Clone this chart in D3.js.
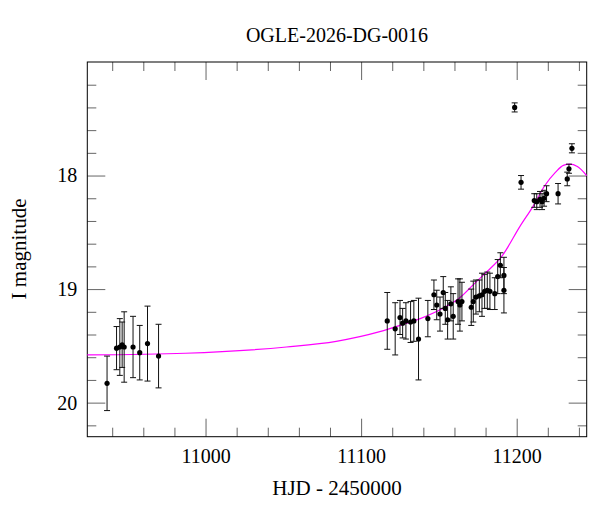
<!DOCTYPE html>
<html>
<head>
<meta charset="utf-8">
<script src="https://cdn.jsdelivr.net/npm/d3@7"></script>
<style>
  body { margin: 0; background: #fff; }
  svg text { font-family: "Liberation Serif", "DejaVu Serif", serif; fill: #000; }
</style>
</head>
<body>
<svg></svg>
<script>
let width = 600;
let height = 512;

// observed points: HJD - 2450000, I mag, error
let obsDays = [
    10936.7, 10942.8, 10944.9, 10946.4, 10947.7, 10953.4, 10957.7, 10962.7, 10969.8,
    11116.8, 11121.9, 11125.0, 11126.7, 11128.8, 11131.8, 11133.9, 11136.9, 11142.9,
    11146.8, 11148.6, 11150.7, 11152.8, 11154.1, 11155.6, 11157.7, 11159.2, 11162.3,
    11163.5, 11164.8, 11170.8, 11172.1, 11173.8, 11176.0, 11177.7, 11179.4, 11181.1,
    11182.8, 11185.9, 11187.8, 11189.5, 11191.8, 11191.8,
    11198.7, 11202.8, 11211.3, 11212.9, 11215.0, 11216.3, 11217.6, 11219.2,
    11226.6, 11232.5, 11233.6, 11235.5
];
let obsMags = [
    19.83, 19.52, 19.51, 19.49, 19.51, 19.51, 19.56, 19.48, 19.59,
    19.28, 19.35, 19.25, 19.30, 19.28, 19.29, 19.28, 19.44, 19.26,
    19.05, 19.14, 19.22, 19.03, 19.17, 19.27, 19.13, 19.24, 19.11,
    19.14, 19.11, 19.16, 19.11, 19.07, 19.06, 19.05, 19.02, 19.01,
    19.02, 19.04, 18.89, 18.79, 18.88, 19.01,
    17.40, 18.06, 18.22, 18.23, 18.21, 18.23, 18.20, 18.16,
    18.16, 18.03, 17.94, 17.76
];
let obsErrs = [
    0.24, 0.19, 0.25, 0.20, 0.31, 0.27, 0.24, 0.33, 0.28,
    0.25, 0.23, 0.15, 0.13, 0.16, 0.18, 0.18, 0.36, 0.16,
    0.13, 0.13, 0.15, 0.14, 0.14, 0.17, 0.15, 0.20, 0.20,
    0.23, 0.17, 0.16, 0.18, 0.15, 0.14, 0.19, 0.15, 0.16,
    0.16, 0.14, 0.15, 0.11, 0.16, 0.20,
    0.04, 0.06, 0.06, 0.07, 0.07, 0.07, 0.07, 0.07,
    0.09, 0.06, 0.04, 0.04
];

// model curve
let modelDays = [10924, 10987, 11052, 11084, 11112, 11125, 11138, 11151, 11164, 11170,
    11176, 11181, 11191, 11202, 11211, 11218, 11225, 11230, 11234, 11239, 11245];
let modelMags = [19.58, 19.565, 19.51, 19.46, 19.375, 19.32, 19.26, 19.18, 19.07, 18.99,
    18.91, 18.845, 18.70, 18.45, 18.26, 18.09, 17.97, 17.91, 17.90, 17.92, 18.00];

let xMajor = [11000, 11100, 11200];
let yMajor = [18, 19, 20];

let margin = {top: 62, right: 13.3, bottom: 75.3, left: 87.3};
let innerW = width - margin.left - margin.right;
let innerH = height - margin.top - margin.bottom;

let svg = d3.select('svg')
    .attr('width', width)
    .attr('height', height);

let x = d3.scaleLinear().domain([10924, 11245]).range([0, innerW]);
let y = d3.scaleLinear().domain([17.0, 20.3]).range([0, innerH]);

let plot = svg.append('g')
    .attr('transform', `translate(${margin.left},${margin.top})`);

// minor ticks every 20 days and 0.2 mag
let xMinor = d3.range(10940, 11245, 20).filter(d => xMajor.indexOf(d) < 0);
let yMinor = d3.range(17.2, 20.3, 0.2).map(d => +d.toFixed(1)).filter(d => yMajor.indexOf(d) < 0);

function tickAxis(axisFn, scale, values, size, labels, pad) {
    return axisFn(scale)
        .tickValues(values)
        .tickSizeInner(-size)
        .tickSizeOuter(0)
        .tickPadding(pad || 0)
        .tickFormat(labels ? d3.format('d') : '');
}

let axes = [
    [d3.axisBottom, x, xMajor, 18, true, 12.4, `translate(0,${innerH})`],
    [d3.axisBottom, x, xMinor, 9, false, 0, `translate(0,${innerH})`],
    [d3.axisTop, x, xMajor, 18, false, 0, null],
    [d3.axisTop, x, xMinor, 9, false, 0, null],
    [d3.axisLeft, y, yMajor, 18, true, 10, null],
    [d3.axisLeft, y, yMinor, 9, false, 0, null],
    [d3.axisRight, y, yMajor, 18, false, 0, `translate(${innerW},0)`],
    [d3.axisRight, y, yMinor, 9, false, 0, `translate(${innerW},0)`]
];

axes.forEach(a => {
    let g = plot.append('g')
        .attr('transform', a[6])
        .call(tickAxis(a[0], a[1], a[2], a[3], a[4], a[5]));
    g.select('.domain').remove();
    g.selectAll('.tick line').attr('stroke', '#666');
    g.selectAll('.tick text')
        .style('font-size', '20px')
        .style('font-family', '"Liberation Serif", serif');
});

// frame
plot.append('rect')
    .attr('width', innerW)
    .attr('height', innerH)
    .attr('fill', 'none')
    .attr('stroke', '#000');

// model line
let line = d3.line()
    .x(d => x(d[0]))
    .y(d => y(d[1]))
    .curve(d3.curveMonotoneX);

plot.append('path')
    .datum(modelDays.map((d, i) => [d, modelMags[i]]))
    .attr('d', line)
    .attr('fill', 'none')
    .attr('stroke', '#ff00ff')
    .attr('stroke-width', 1.2);

// data points with error bars
let obs = obsDays.map((d, i) => ({day: d, mag: obsMags[i], err: obsErrs[i]}));

let pts = plot.selectAll('g.obs')
    .data(obs)
    .enter()
    .append('g')
    .classed('obs', true);

pts.append('line')
    .attr('x1', d => x(d.day))
    .attr('x2', d => x(d.day))
    .attr('y1', d => y(d.mag - d.err))
    .attr('y2', d => y(d.mag + d.err));

[-1, 1].forEach(s => {
    pts.append('line')
        .attr('x1', d => x(d.day) - 3)
        .attr('x2', d => x(d.day) + 3)
        .attr('y1', d => y(d.mag + s * d.err))
        .attr('y2', d => y(d.mag + s * d.err));
});

pts.selectAll('line')
    .attr('stroke', '#111')
    .attr('stroke-width', 1);

pts.append('circle')
    .attr('cx', d => x(d.day))
    .attr('cy', d => y(d.mag))
    .attr('r', 2.6)
    .attr('fill', '#000');

// labels
svg.append('text')
    .attr('x', margin.left + innerW / 2)
    .attr('y', 41.7)
    .attr('text-anchor', 'middle')
    .style('font-size', '20px')
    .text('OGLE-2026-DG-0016');

svg.append('text')
    .attr('x', margin.left + innerW / 2)
    .attr('y', 495)
    .attr('text-anchor', 'middle')
    .style('font-size', '21px')
    .text('HJD - 2450000');

svg.append('text')
    .attr('transform', 'translate(25.5,249) rotate(-90)')
    .attr('text-anchor', 'middle')
    .style('font-size', '21px')
    .text('I magnitude');
</script>
</body>
</html>
